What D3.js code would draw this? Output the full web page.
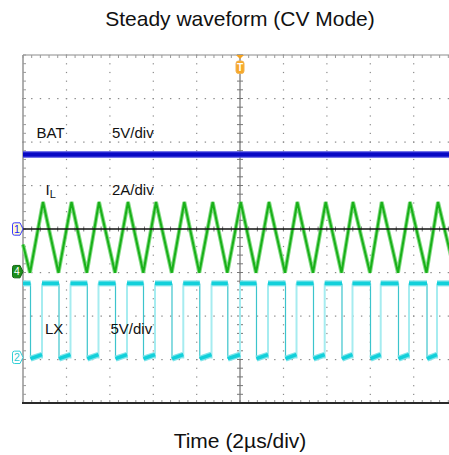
<!DOCTYPE html>
<html><head><meta charset="utf-8">
<script src="https://cdn.jsdelivr.net/npm/d3@7"></script>
<style>body{margin:0;background:#fff}svg{display:block}text{font-family:"Liberation Sans",Arial,Helvetica,sans-serif}</style>
</head><body><svg id="c" width="449" height="455"></svg>
<script>
// ---------------- data ----------------
const title = "Steady waveform (CV Mode)";
const xLabel = "Time (2µs/div)";
const timeDomain = [0, 20];          // µs (10 div x 2 µs)
const divDomain = [-4, 4];           // vertical divisions
const channelNames = ["BAT", "IL", "LX"];
const channelUnitsPerDiv = [5, 2, 5];
const channelScaleText = ["5V/div", "2A/div", "5V/div"];
const channelMarker = ["1", "4", "2"];
const channelOffsetDiv = [0, -0.98, -2.95];

const batTime = [0, 20];
const batValue = [8.56, 8.56];

const ilTime = [0, 0.323, 0.922, 1.636, 2.235, 2.940, 3.502, 4.240, 4.839, 5.544, 6.129, 6.853, 7.433, 8.125, 8.742, 9.415, 10.032, 10.737, 11.336, 12.074, 12.641, 13.364, 13.949, 14.677, 15.207, 15.991, 16.530, 17.281, 17.834, 18.594, 19.124, 19.908, 20];
const ilValue = [1.25, -0.05, 3.2, -0.05, 3.2, -0.05, 3.2, -0.05, 3.2, -0.05, 3.2, -0.05, 3.2, -0.05, 3.2, -0.05, 3.2, -0.05, 3.2, -0.05, 3.2, -0.05, 3.2, -0.05, 3.2, -0.05, 3.2, -0.05, 3.2, -0.05, 3.2, -0.05, 0.45];

const lxFallTime = [0.346, 1.659, 2.963, 4.263, 5.553, 6.866, 8.147, 9.438, 10.760, 12.097, 13.387, 14.700, 16.014, 17.304, 18.618, 19.931];
const lxRiseTime = [0.876, 2.189, 3.479, 4.793, 6.083, 7.387, 8.687, 10.000, 11.290, 12.604, 13.903, 15.184, 16.484, 17.788, 19.078];
const lxHigh = 8.5;
const lxLowStart = -0.15;
const lxLowEnd = 0.3;

const triggerTime = 10;

// ---------------- scales ----------------
const svg = d3.select("#c");
const x = d3.scaleLinear().domain(timeDomain).range([23, 457]);
const yd = d3.scaleLinear().domain(divDomain).range([403, 55]);
const chY = (ch, v) => yd(channelOffsetDiv[ch] + v / channelUnitsPerDiv[ch]);
const L = x.range()[0], R = x.range()[1], T = yd.range()[1], B = yd.range()[0];
const xDiv = d3.scaleLinear().domain([0, 10]).range([L, R]);
const cx = xDiv(5), cy = yd(0);

// ---------------- grid ----------------
const g = svg.append("g");
const minor = d3.range(0, 10.001, 0.2);
const minorY = d3.range(-4, 4.001, 0.2);
// dots on major grid lines
for (let i = 1; i < 10; i++) {
  if (i === 5) continue;
  g.selectAll(null).data(minorY).join("rect")
    .attr("x", xDiv(i) - 0.5).attr("y", d => yd(d) - 0.5).attr("width", 1.2).attr("height", 1.2).attr("fill", "#8a8a8a");
}
for (let j = -3; j < 4; j++) {
  if (j === 0) continue;
  g.selectAll(null).data(minor).join("rect")
    .attr("x", d => xDiv(d) - 0.6).attr("y", yd(j) - 0.5).attr("width", 1.4).attr("height", 1.2).attr("fill", "#8a8a8a");
}
// frame
g.append("line").attr("x1", L).attr("x2", R).attr("y1", T).attr("y2", T).attr("stroke", "#8c8c8c").attr("stroke-width", 1.2);
g.append("line").attr("x1", L).attr("x2", L).attr("y1", T).attr("y2", B).attr("stroke", "#7a7a7a").attr("stroke-width", 1.2);
g.selectAll(null).data(minor).join("line")
  .attr("x1", d => xDiv(d)).attr("x2", d => xDiv(d)).attr("y1", T).attr("y2", T + 3).attr("stroke", "#999");
g.selectAll(null).data(minorY).join("line")
  .attr("x1", L).attr("x2", L + 3).attr("y1", d => yd(d)).attr("y2", d => yd(d)).attr("stroke", "#999");
g.selectAll(null).data(minor).join("line")
  .attr("x1", d => xDiv(d)).attr("x2", d => xDiv(d)).attr("y1", B).attr("y2", B - 3).attr("stroke", "#999");
// center axes
g.append("line").attr("x1", cx).attr("x2", cx).attr("y1", T).attr("y2", B).attr("stroke", "#555").attr("stroke-width", 1);
g.selectAll(null).data(minorY).join("line")
  .attr("x1", cx - 3).attr("x2", cx + 3).attr("y1", d => yd(d)).attr("y2", d => yd(d)).attr("stroke", "#777");
g.selectAll(null).data(minor).join("line")
  .attr("x1", d => xDiv(d)).attr("x2", d => xDiv(d)).attr("y1", cy - 2.5).attr("y2", cy + 2.5).attr("stroke", "#777");

// ---------------- traces ----------------
const line = d3.line();
// BAT
const batPts = batTime.map((t, i) => [x(t), chY(0, batValue[i])]);
svg.append("path").attr("d", line(batPts)).attr("fill", "none").attr("stroke", "#4848e0").attr("stroke-width", 6.5);
svg.append("path").attr("d", line(batPts)).attr("fill", "none").attr("stroke", "#0808c4").attr("stroke-width", 4);

// LX
const lxSegs = [];
const lxEdges = [];
let tPrev = timeDomain[0];
lxSegs.push({hi: true, pts: [[x(tPrev), chY(2, lxHigh)], [x(lxFallTime[0]), chY(2, lxHigh)]]});
lxFallTime.forEach((tf, i) => {
  const tr = i < lxRiseTime.length ? lxRiseTime[i] : timeDomain[1];
  lxEdges.push({rise: false, t: tf});
  lxSegs.push({hi: false, pts: [[x(tf), chY(2, lxLowStart)], [x(tr), chY(2, i < lxRiseTime.length ? lxLowEnd : lxLowStart + (lxLowEnd - lxLowStart) * 0.2)]]});
  if (i < lxRiseTime.length) {
    lxEdges.push({rise: true, t: tr});
    const tn = i + 1 < lxFallTime.length ? lxFallTime[i + 1] : timeDomain[1];
    lxSegs.push({hi: true, pts: [[x(tr), chY(2, lxHigh)], [x(tn), chY(2, lxHigh)]]});
  }
});
svg.selectAll(null).data(lxEdges).join("line")
  .attr("x1", d => x(d.t)).attr("x2", d => x(d.t))
  .attr("y1", chY(2, lxHigh)).attr("y2", chY(2, lxLowStart))
  .attr("stroke", d => d.rise ? "#a6ecf0" : "#3cc4cc").attr("stroke-width", d => d.rise ? 2 : 1.2);
svg.selectAll(null).data(lxSegs).join("path").attr("d", d => line(d.pts))
  .attr("fill", "none").attr("stroke", "#7fe4ea").attr("stroke-width", 6);
svg.selectAll(null).data(lxSegs).join("path").attr("d", d => line(d.pts))
  .attr("fill", "none").attr("stroke", "#12d0da").attr("stroke-width", 3.5);

// IL
const ilPts = ilTime.map((t, i) => [x(t), chY(1, ilValue[i])]);
svg.append("path").attr("d", line(ilPts)).attr("fill", "none").attr("stroke", "#86dc86").attr("stroke-width", 4).attr("stroke-linejoin", "miter");
svg.append("path").attr("d", line(ilPts)).attr("fill", "none").attr("stroke", "#19b019").attr("stroke-width", 2);

// bottom frame line on top
svg.append("line").attr("x1", L - 1).attr("x2", R).attr("y1", B).attr("y2", B).attr("stroke", "#2a2a2a").attr("stroke-width", 2);
// center horizontal line
svg.append("line").attr("x1", L).attr("x2", R).attr("y1", cy).attr("y2", cy).attr("stroke", "#111").attr("stroke-width", 1.5);

// ---------------- markers ----------------
const markerStyle = [
  {fill: "#fffbd0", stroke: "#3a3aff", text: "#2020ff"},
  {fill: "#1c8e1c", stroke: "#116611", text: "#ffffff"},
  {fill: "#ffffff", stroke: "#30d0d8", text: "#30c8d0"}
];
channelMarker.forEach((m, i) => {
  const yy = yd(channelOffsetDiv[i]);
  const x0 = 12.5, x1 = 20, tip = 23, h = 6.2;
  const p = `M${x0 + 2},${yy - h} L${x1},${yy - h} L${tip},${yy} L${x1},${yy + h} L${x0 + 2},${yy + h} Q${x0},${yy + h} ${x0},${yy + h - 2} L${x0},${yy - h + 2} Q${x0},${yy - h} ${x0 + 2},${yy - h} Z`;
  svg.append("path").attr("d", p).attr("fill", markerStyle[i].fill).attr("stroke", markerStyle[i].stroke).attr("stroke-width", 1);
  svg.append("text").attr("x", 17).attr("y", yy + 3.8).attr("text-anchor", "middle")
    .attr("font-size", 10.5).attr("fill", markerStyle[i].text).text(m);
});
// trigger marker
const tx = x(triggerTime);
svg.append("path").attr("d", `M${tx - 4},${T} L${tx + 4},${T} L${tx},${T + 4} Z`).attr("fill", "#f5a21e");
svg.append("rect").attr("x", tx - 4).attr("y", T + 6).attr("width", 8).attr("height", 12.5).attr("rx", 2.5)
  .attr("fill", "#f7a928").attr("stroke", "#f0b050");
svg.append("text").attr("x", tx).attr("y", T + 16).attr("text-anchor", "middle").attr("font-size", 10)
  .attr("font-weight", "bold").attr("fill", "#fff").text("T");

// ---------------- labels ----------------
const lab = svg.append("g").attr("font-size", 15).attr("fill", "#111");
const labelY = [137.5, 195, 334];
lab.append("text").attr("x", 36.5).attr("y", labelY[0]).text(channelNames[0]);
const il = lab.append("text").attr("x", 45.5).attr("y", labelY[1]);
il.append("tspan").text(channelNames[1][0]);
il.append("tspan").attr("font-size", 11).attr("dy", 3).text(channelNames[1][1]);
lab.append("text").attr("x", 45).attr("y", labelY[2]).text(channelNames[2]);
channelScaleText.forEach((s, i) => lab.append("text").attr("x", i === 2 ? 110.5 : 112).attr("y", labelY[i]).text(s));

svg.append("text").attr("x", 240).attr("y", 26).attr("text-anchor", "middle").attr("font-size", 21).attr("fill", "#111").text(title);
svg.append("text").attr("x", 240).attr("y", 448).attr("text-anchor", "middle").attr("font-size", 21).attr("fill", "#111").text(xLabel);
</script></body></html>
